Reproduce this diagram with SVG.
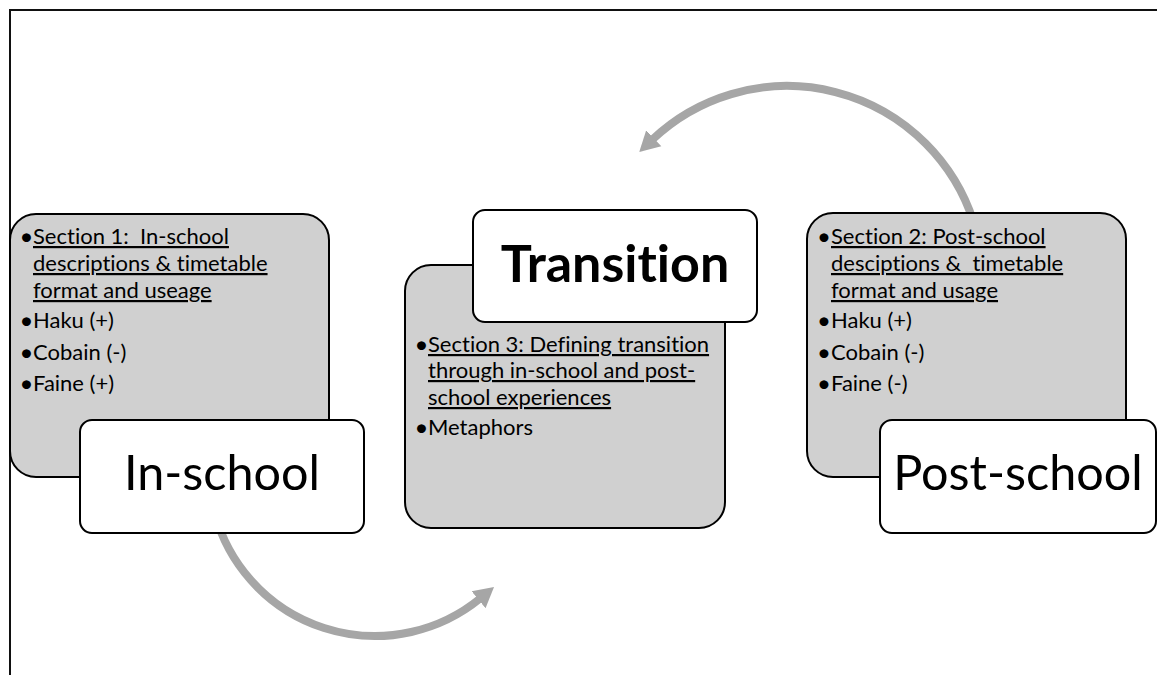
<svg xmlns="http://www.w3.org/2000/svg" width="1157" height="675" viewBox="0 0 1157 675">
  <style>
    .panel { fill: #d0d0d0; stroke: #000; stroke-width: 2; }
    .label { fill: #fff; stroke: #000; stroke-width: 2; }
    text { font-family: Lato, "Liberation Sans", sans-serif; font-variant-ligatures: none; fill: #000; white-space: pre; }
    .body { font-size: 22px; }
    .dot { font-size: 24px; text-anchor: middle; }
    .ul { text-decoration: underline; }
    .title { font-size: 48.5px; text-anchor: middle; }
    .bold { font-weight: bold; font-size: 52px; }
    .flow { fill: none; stroke: #a6a6a6; stroke-width: 8; }
  </style>
  <defs>
    <marker id="head" markerUnits="userSpaceOnUse" markerWidth="24" markerHeight="24" refX="2" refY="12" orient="auto" viewBox="0 0 24 24">
      <path d="M0,1 L20,12 L0,23 z" fill="#a6a6a6"/>
    </marker>
  </defs>

  <rect width="1157" height="675" fill="#fff"/>
  <!-- frame -->
  <path d="M10,675 V10 H1157" fill="none" stroke="#111" stroke-width="2"/>

  <!-- connectors -->
  <g id="connectors">
    <path class="flow" d="M214.7,513 A166,166 0 0 0 480.1,598.5" marker-end="url(#head)"/>
    <path class="flow" d="M973.4,221.4 A196,196 0 0 0 652.3,139.6" marker-end="url(#head)"/>
  </g>

  <!-- In-school -->
  <g id="in-school">
    <rect class="panel" x="10" y="214" width="319" height="263" rx="26"/>
    <text class="dot" x="26.5" y="244.5">•</text>
    <text class="body ul" x="33" y="244" xml:space="preserve">Section 1:  In-school</text>
    <text class="body ul" x="33" y="271">descriptions &amp; timetable</text>
    <text class="body ul" x="33" y="298">format and useage</text>
    <text class="dot" x="26.5" y="328.5">•</text>
    <text class="body" x="33" y="328">Haku (+)</text>
    <text class="dot" x="26.5" y="360.5">•</text>
    <text class="body" x="33" y="360">Cobain (-)</text>
    <text class="dot" x="26.5" y="391.5">•</text>
    <text class="body" x="33" y="391">Faine (+)</text>
    <rect class="label" x="80" y="420" width="284" height="113" rx="12"/>
    <text class="title" x="222" y="490">In-school</text>
  </g>

  <!-- Transition -->
  <g id="transition">
    <rect class="panel" x="405" y="265" width="320" height="263" rx="26"/>
    <text class="dot" x="421.5" y="352.5">•</text>
    <text class="body ul" x="428" y="352">Section 3: Defining transition</text>
    <text class="body ul" x="428" y="378">through in-school and post-</text>
    <text class="body ul" x="428" y="405">school experiences</text>
    <text class="dot" x="421.5" y="435.5">•</text>
    <text class="body" x="428" y="435">Metaphors</text>
    <rect class="label" x="473" y="210" width="284" height="112" rx="12"/>
    <text class="title bold" x="615" y="282">Transition</text>
  </g>

  <!-- Post-school -->
  <g id="post-school">
    <rect class="panel" x="807" y="213" width="319" height="264" rx="26"/>
    <text class="dot" x="824" y="244.5">•</text>
    <text class="body ul" x="831" y="244">Section 2: Post-school</text>
    <text class="body ul" x="831" y="271" xml:space="preserve">desciptions &amp;  timetable</text>
    <text class="body ul" x="831" y="298">format and usage</text>
    <text class="dot" x="824" y="328.5">•</text>
    <text class="body" x="831" y="328">Haku (+)</text>
    <text class="dot" x="824" y="360.5">•</text>
    <text class="body" x="831" y="360">Cobain (-)</text>
    <text class="dot" x="824" y="391.5">•</text>
    <text class="body" x="831" y="391">Faine (-)</text>
    <rect class="label" x="880" y="420" width="276" height="113" rx="12"/>
    <text class="title" x="1018" y="490">Post-school</text>
  </g>
</svg>
